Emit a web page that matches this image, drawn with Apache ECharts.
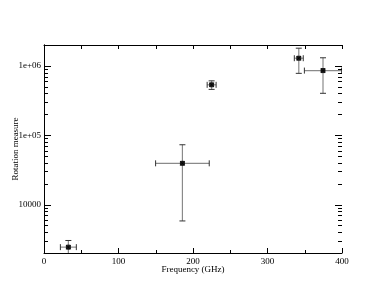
<!DOCTYPE html>
<html><head><meta charset="utf-8">
<script src="https://cdn.jsdelivr.net/npm/echarts@6/dist/echarts.min.js"></script>
<style>html,body{margin:0;padding:0;background:#fff}#c{width:385px;height:298px}</style>
</head><body><div id="c"></div>
<script>
// Data
var freq    = [32.7, 185.8, 225, 342, 374.5];
var freqErr = [10.7, 36, 6, 6, 25];
var rm      = [2430, 39300, 533000, 1290000, 855000];
var rmErr   = [600, 33500, 75000, 510000, 453000];

var yMajorTicks = [10000, 100000, 1000000];
var yTickLabels = ['10000', '1e+05', '1e+06'];
var yMinorTicks = [2000,3000,4000,5000,6000,7000,8000,9000,
                   20000,30000,40000,50000,60000,70000,80000,90000,
                   200000,300000,400000,500000,600000,700000,800000,900000];
var xSides = [0, 400];

var FONT = '"Liberation Serif","DejaVu Serif",serif';

var chart = echarts.init(document.getElementById('c'), null, {renderer:'canvas'});

var errData = freq.map(function(f,i){ return [f, rm[i], freqErr[i], rmErr[i]]; });
var ptData = freq.map(function(f,i){ return [f, rm[i]]; });

function labelFor(v){
  for (var i=0;i<yMajorTicks.length;i++){
    if (Math.abs(Math.log10(v)-Math.log10(yMajorTicks[i]))<1e-6) return yTickLabels[i];
  }
  return '';
}

var option = {
  animation:false,
  backgroundColor:'#fff',
  grid:{left:44, top:45, right:43, bottom:45, containLabel:false, outerBoundsMode:'none'},
  xAxis:[{
    type:'value', min:0, max:400, interval:100, position:'bottom',
    name:'Frequency (GHz)', nameLocation:'middle', nameGap:12, nameMoveOverlap:false,
    nameTextStyle:{fontFamily:FONT, fontSize:9, color:'#000'},
    axisLine:{lineStyle:{color:'#000', width:1}},
    axisTick:{inside:true, length:5, lineStyle:{color:'#000'}},
    minorTick:{show:true, splitNumber:2, length:3, lineStyle:{color:'#000'}},
    axisLabel:{fontFamily:FONT, fontSize:9, color:'#000', margin:4},
    splitLine:{show:false}
  },{
    type:'value', min:0, max:400, interval:100, position:'top',
    axisLine:{lineStyle:{color:'#000', width:1}},
    axisTick:{inside:true, length:4, lineStyle:{color:'#000'}},
    minorTick:{show:true, splitNumber:2, length:4, lineStyle:{color:'#000'}},
    axisLabel:{show:false},
    splitLine:{show:false}
  }],
  yAxis:[{
    type:'log', logBase:10, min:2000, max:2000000, position:'left',
    name:'Rotation measure', nameLocation:'middle', nameGap:24, nameRotate:90, nameMoveOverlap:false,
    nameTextStyle:{fontFamily:FONT, fontSize:9, color:'#000'},
    axisLine:{show:true, lineStyle:{color:'#000', width:1}},
    axisTick:{show:false}, minorTick:{show:false},
    axisLabel:{fontFamily:FONT, fontSize:9, color:'#000', margin:3, showMinLabel:false, showMaxLabel:false,
      formatter:function(v){return labelFor(v);}},
    splitLine:{show:false}
  },{
    type:'log', logBase:10, min:2000, max:2000000, position:'right',
    axisLine:{show:true, lineStyle:{color:'#000', width:1}},
    axisTick:{show:false}, minorTick:{show:false}, axisLabel:{show:false}, splitLine:{show:false}
  }],
  series:[{
    type:'custom', xAxisIndex:0, yAxisIndex:0, silent:true, clip:true,
    encode:{x:0, y:1},
    data:errData,
    renderItem:function(params, api){
      var x = api.value(0), y = api.value(1), ex = api.value(2), ey = api.value(3);
      var c = api.coord([x,y]);
      var l = api.coord([x-ex,y]), r = api.coord([x+ex,y]);
      var ylow = Math.max(y-ey, 1);
      var t = api.coord([x,y+ey]), b = api.coord([x,ylow]);
      var h = 3, grey = '#8a8a8a', dark = '#333';
      return {type:'group', children:[
        {type:'line', shape:{x1:l[0], y1:c[1], x2:r[0], y2:c[1]}, style:{stroke:grey, lineWidth:1.2}},
        {type:'line', shape:{x1:c[0], y1:t[1], x2:c[0], y2:b[1]}, style:{stroke:grey, lineWidth:1.2}},
        {type:'line', shape:{x1:l[0], y1:c[1]-h, x2:l[0], y2:c[1]+h}, style:{stroke:dark, lineWidth:1}},
        {type:'line', shape:{x1:r[0], y1:c[1]-h, x2:r[0], y2:c[1]+h}, style:{stroke:dark, lineWidth:1}},
        {type:'line', shape:{x1:c[0]-h, y1:t[1], x2:c[0]+h, y2:t[1]}, style:{stroke:dark, lineWidth:1}},
        {type:'line', shape:{x1:c[0]-h, y1:b[1], x2:c[0]+h, y2:b[1]}, style:{stroke:dark, lineWidth:1}}
      ]};
    }
  },{
    type:'scatter', xAxisIndex:0, yAxisIndex:0, silent:true,
    data:ptData,
    symbol:'path://M0,0 L10,10 M10,0 L0,10 M0,0 L10,0 L10,10 L0,10 Z',
    symbolSize:4,
    itemStyle:{color:'#000', borderColor:'#000', borderWidth:1}
  }]
};
chart.setOption(option);

// y-axis ticks on both sides (inside), positioned via the chart's own scales
var tickEls = [];
xSides.forEach(function(s){
  var dir = s > 200 ? -1 : 1;
  function add(v, L){
    var p = chart.convertToPixel({xAxisIndex:0, yAxisIndex:0}, [s, v]);
    var y = Math.round(p[1]) + 0.5;
    tickEls.push({type:'line', silent:true, z:10,
      shape:{x1:p[0], y1:y, x2:p[0] + dir*L, y2:y},
      style:{stroke:'#000', lineWidth:1}});
  }
  yMajorTicks.forEach(function(v){ add(v, 7); });
  yMinorTicks.forEach(function(v){ add(v, 4); });
});
chart.setOption({graphic:{elements:tickEls}});
</script></body></html>
